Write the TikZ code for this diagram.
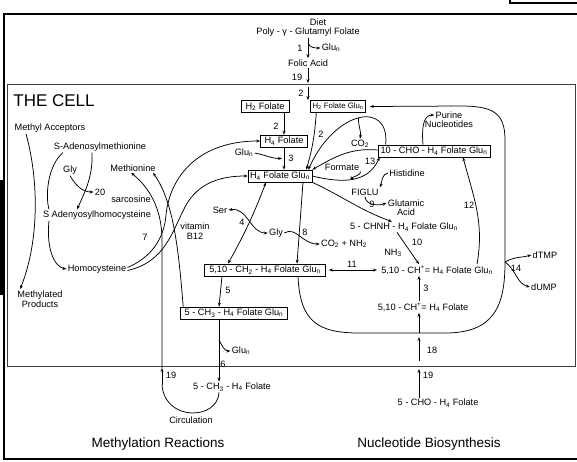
\documentclass[tikz,border=0pt]{standalone}
\usepackage{fontspec}
\setmainfont{Liberation Sans}
\usepackage{tikz}
\usetikzlibrary{positioning}
\usetikzlibrary{arrows.meta,calc}

\begin{document}
\begin{tikzpicture}[x=1pt, y=-1pt, >={Stealth[length=4pt,width=3pt]}, line width=0.75pt,
    lbl/.style = {font=\fontsize{9.2}{10}\selectfont, inner sep=1pt},
    boxed/.style = {lbl, draw, inner sep=2pt, minimum height=12pt, line width=0.65pt},
    big/.style = {font=\fontsize{13.5}{15}\selectfont, inner sep=1pt}
    ]
    \useasboundingbox (0,0) rectangle (577,461);
    \fill (0,180) rectangle (3,295);
    \draw[line width=1.8pt] (577,14) -- (4,14) -- (4,459) -- (577,459);
    \draw[line width=1.2pt] (510,0) -- (510,3) -- (577,3);
    \draw[gray!50!black, line width=0.8pt] (7,84) rectangle (575,366);

    \node[anchor=west, font=\fontsize{17}{19}\selectfont, inner sep=0pt] (cell) at (13,101) {THE CELL};

    \node[lbl] (diet) at (318,22) {Diet};
    \node[lbl] (poly) at (308,32) {Poly - γ - Glutamyl Folate};
    \node[lbl] (folic) at (308,63) {Folic Acid};
    \node[lbl] (glua) at (331,48) {Glu\textsubscript{n}};
    \node[lbl] (n1) at (300,48) {1};
    \node[lbl] (n19a) at (297,77) {19};
    \node[lbl] (n2a) at (301,93) {2};
    \coordinate (b1) at (308,43);
    \coordinate (in19) at (308,83);
    \coordinate (in2) at (308,87);
    \coordinate (to2) at (308,100);

    \node[boxed, minimum width=48pt] (h2f) at (265,106.5) {H\textsubscript{2} Folate};
    \node[boxed, font=\fontsize{7.8}{9}\selectfont] (h2fg) at (338,106.5) {H\textsubscript{2} Folate Glu\textsubscript{n}};
    \node[boxed, minimum width=47pt] (h4f) at (284,141) {H\textsubscript{4} Folate};
    \node[boxed, minimum width=64pt] (h4fg) at (280,176) {H\textsubscript{4} Folate Glu\textsubscript{n}};
    \node[lbl] (n2b) at (276,126) {2};
    \node[lbl] (n2c) at (321,134) {2};
    \node[lbl] (glub) at (244,153) {Glu\textsubscript{n}};
    \node[lbl] (n3a) at (291,158) {3};
    \coordinate (j3) at ($(h4f.south)!0.5!(h4fg.north)$);

    \node[lbl] (purine) at (449,115) {Purine};
    \node[lbl] (nucl) [below=0pt of purine] {Nucleotides};
    \node[lbl] (co2) at (360,144) {CO\textsubscript{2}};
    \node[boxed, minimum width=112pt] (cho) at (434,151) {10 - CHO - H\textsubscript{4} Folate Glu\textsubscript{n}};
    \node[lbl] (n13) at (370,161) {13};
    \node[lbl] (formate) at (342,167) {Formate};
    \node[lbl] (hist) at (407,173) {Histidine};
    \node[lbl] (figlu) at (365,192) {FIGLU};
    \node[lbl] (n9) at (372,204) {9};
    \node[lbl] (glut) at (406,203) {Glutamic};
    \node[lbl] (acid) [below=0pt of glut] {Acid};
    \node[lbl] (chnh) at (404,227) {5 - CHNH - H\textsubscript{4} Folate Glu\textsubscript{n}};
    \node[lbl] (n10) at (417,242) {10};
    \node[lbl] (n12) at (469,205) {12};
    \node[lbl] (nh3) at (393,253) {NH\textsubscript{3}};
    \node[lbl] (n11) at (352,264) {11};
    \node[lbl] (chg) at (437,270) {5,10 - CH\textsuperscript{+}= H\textsubscript{4} Folate Glu\textsubscript{n}};
    \node[lbl] (n3b) at (426,288) {3};
    \node[lbl] (chf) at (423,307) {5,10 - CH\textsuperscript{+}= H\textsubscript{4} Folate};
    \node[lbl] (n18) at (432,350) {18};
    \node[lbl] (n19c) at (428,375) {19};
    \node[lbl] (cho5) at (438,403) {5 - CHO - H\textsubscript{4} Folate};
    \node[big] (nucbio) at (429,444) {Nucleotide Biosynthesis};
    \node[lbl] (dtmp) at (545,255) {dTMP};
    \node[lbl] (dump) at (544,287) {dUMP};
    \node[lbl] (n14) at (516,268) {14};
    \coordinate (lb) at (419,333);
    \coordinate (b14) at (505,262);
    \coordinate (c18) at (419,361);
    \coordinate (c18e) at (419,337);
    \coordinate (c19c) at (419,369);

    \node[lbl] (macc) at (50,128) {Methyl Acceptors};
    \node[lbl, align=center] (mprod) at (40,299) {Methylated\\Products};
    \node[lbl] (sam) at (100,147) {S-Adenosylmethionine};
    \node[lbl] (gly1) at (70,170) {Gly};
    \node[lbl] (n20) at (100,192) {20};
    \node[lbl] (sarc) at (131,199) {sarcosine};
    \node[lbl] (met) at (133,168) {Methionine};
    \node[lbl] (sah) at (97,215) {S Adenyosylhomocysteine};
    \node[lbl] (n7) at (145,237) {7};
    \node[lbl, align=center] (vitb) at (195,231) {vitamin\\B12};
    \node[lbl] (hcy) at (97,269) {Homocysteine};
    \node[lbl] (ser) at (220,210) {Ser};
    \node[lbl] (n4) at (242,222) {4};
    \node[lbl] (gly2) at (276,233) {Gly};
    \node[lbl] (n8) at (305,232) {8};
    \node[lbl] (co2nh) at (344,244) {CO\textsubscript{2} + NH\textsubscript{2}};
    \node[boxed, minimum width=121pt] (ch2) at (265,270) {5,10 - CH\textsubscript{2} - H\textsubscript{4} Folate Glu\textsubscript{n}};
    \node[lbl] (n5) at (228,290) {5};
    \node[boxed, minimum width=107pt] (ch3) at (234,313) {5 - CH\textsubscript{3} - H\textsubscript{4} Folate Glu\textsubscript{n}};
    \node[lbl] (glud) at (241,351) {Glu\textsubscript{n}};
    \node[lbl] (n6) at (223,364) {6};
    \node[lbl] (n19b) at (171,375) {19};
    \node[lbl] (ch3f) at (232,387) {5 - CH\textsubscript{3} - H\textsubscript{4} Folate};
    \node[lbl] (circ) at (191,420) {Circulation};
    \node[big] (methreac) at (158,444) {Methylation Reactions};
    \coordinate (b6) at (219,340);
    \coordinate (c19b) at (162,385);
    \coordinate (c19be) at (162,368);

    \draw[->] (poly) -- (folic);
    \draw[->] (b1) to[out=-70, in=180] (glua);
    \draw[->] (folic) -- (in19);
    \draw[->] (in2) -- (to2);
    \draw[->] (h2f.south -| h4f.north) -- (h4f.north);
    \draw[->] ([xshift=6pt]h2fg.south west) to[bend left=6] ([xshift=-6pt]h4fg.north east);
    \draw[->] (glub.east) to[out=-10, in=180] (j3);
    \draw[->] (h4f.south) -- (h4f.south |- h4fg.north);

    \draw[->] ([xshift=33pt]ch2.south) .. controls (300,322) and (318,333) .. (360,333) -- (lb) -- (445,333)
        .. controls (495,333) and (505,305) .. (b14) -- (505,140) .. controls (505,112) and (492,106) .. (460,106)
        -- ([xshift=4pt]h2fg.east);
    \draw[->] (b14) to[out=30, in=195] (dtmp.west);
    \draw[->] (b14) to[out=-35, in=165] (dump.west);
    \draw[->] ([xshift=-11pt]cho.north) to[out=95, in=180] (purine.west);
    \draw[->] ([xshift=8pt]cho.north west) .. controls (390,100) and (335,110) .. coordinate[pos=0.5] (a13) ([xshift=-4pt]h4fg.north east);
    \draw[->] (a13) to[out=-95, in=80] (co2.north);
    \draw[->] ([yshift=1pt]cho.west) to[out=175, in=30] (h4fg.north east);
    \draw[->] (h4fg.east) .. controls (345,184) and (368,182) .. coordinate[pos=0.5] (f13) ([xshift=2pt]cho.south west);
    \draw[->] (formate.south east) to[out=-60, in=160] (f13);
    \draw[->] (hist.west) to[out=190, in=70] (figlu.north east);
    \draw[->] (figlu.south) to[out=-85, in=200] (glut.west);
    \draw[->] (h4fg.south east) to[out=-25, in=160] ([xshift=-12pt]chnh.north);
    \draw[->] ([xshift=-7pt]chnh.south) -- (lb |- chg.north);
    \draw[->] ([xshift=40pt]chg.north) to[out=80, in=-75] ([xshift=29pt]cho.south);
    \draw[<->, shorten <=3pt, shorten >=3pt] (ch2.east) -- (ch2.east -| chg.west);
    \draw[->] (lb |- chf.north) -- (lb |- chg.south);
    \draw[->] (lb) -- (lb |- chf.south);
    \draw[->] (c18) -- (c18e);
    \draw[->] (cho5.north -| lb) -- (c19c);

    \draw[->] ([xshift=-24pt]macc.south) .. controls (40,185) and (38,245) .. ([xshift=-20pt]mprod.north);
    \draw ([xshift=-37pt]sam.south) .. controls (48,165) and (45,195) .. ([xshift=-48pt]sah.north);
    \draw[->] ([xshift=-48pt]sah.south) .. controls (46,250) and (55,267) .. (hcy.west);
    \draw[->] ([xshift=-8pt]sam.south) .. controls (93,175) and (86,190) .. ([xshift=-20pt]sah.north);
    \draw[->] (gly1.south) to[out=-60, in=180] (n20.west);
    \draw ([xshift=-13pt]ch3f.south) .. controls (218,420) and (165,422) .. (c19b);
    \draw[->] (c19b) -- (c19be);
    \draw[->] (c19be) -- (162,240) .. controls (162,210) and (150,188) .. ([xshift=-2pt]met.south);
    \draw[->] ([xshift=3pt]ch3.north west) .. controls (178,240) and (172,200) .. ([xshift=20pt]met.south);
    \draw[->] ([yshift=1.5pt]hcy.east) .. controls (150,258) and (164,240) .. (166,215)
        .. controls (170,175) and (200,141) .. (h4f.west);
    \draw[->] ([yshift=-1.5pt]hcy.east) .. controls (165,262) and (172,232) .. (185,207)
        .. controls (198,182) and (222,176) .. (h4fg.west);
    \draw[<->] (ser.east) .. controls (248,207) and (250,233) .. (gly2.west);
    \draw[<->] ([xshift=-14pt]h4fg.south) to[bend left=4] ([xshift=-37pt]ch2.north);
    \draw[->] ([xshift=23pt]h4fg.south) -- ([xshift=32pt]ch2.north);
    \draw[->] (gly2.east) .. controls (296,226) and (302,244) .. (co2nh.west);
    \draw[->] ([xshift=-43pt]ch2.south) -- ([xshift=-15pt]ch3.north);
    \draw[->] ([xshift=-15pt]ch3.south) -- ([xshift=-13pt]ch3f.north);
    \draw[->] (b6) to[out=-60, in=180] (glud.west);
\end{tikzpicture}
\end{document}
